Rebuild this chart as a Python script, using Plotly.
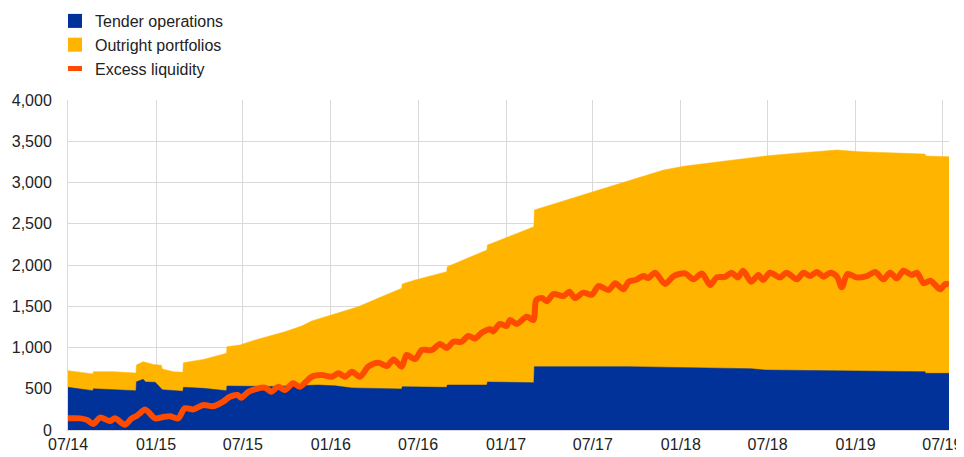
import plotly.graph_objects as go

# ---------------- data (EUR billions) ----------------
total_dates = ["2014-07-01", "2014-08-22", "2014-08-23", "2014-10-04", "2014-11-20", "2014-11-21",
               "2014-12-05", "2014-12-26", "2015-01-12", "2015-01-14", "2015-02-06", "2015-02-26",
               "2015-02-27", "2015-04-10", "2015-05-28", "2015-05-29", "2015-06-25", "2015-07-27",
               "2015-09-27", "2015-11-01", "2015-11-22", "2016-01-10", "2016-02-27", "2016-04-16",
               "2016-05-28", "2016-05-29", "2016-06-25", "2016-08-30", "2016-08-31", "2016-11-22",
               "2016-11-23", "2017-02-28", "2017-03-01", "2017-06-25", "2017-09-14", "2017-11-26",
               "2018-01-10", "2018-03-20", "2018-06-26", "2018-08-24", "2018-11-23", "2019-01-10",
               "2019-03-28", "2019-05-26", "2019-05-27", "2019-07-15"]
total_values = [719, 680, 707, 707, 690, 788,
                828, 795, 785, 739, 707, 700,
                816, 856, 929, 1010, 1030, 1091,
                1191, 1260, 1321, 1406, 1494, 1616,
                1717, 1770, 1818, 1919, 1979, 2182,
                2242, 2464, 2667, 2876, 3022, 3151,
                3200, 3252, 3321, 3353, 3394, 3373,
                3353, 3345, 3321, 3313]

tender_dates = ["2014-07-01", "2014-08-22", "2014-08-23", "2014-10-04", "2014-11-20", "2014-11-21",
                "2014-12-05", "2014-12-10", "2014-12-30", "2015-01-14", "2015-02-26", "2015-02-27",
                "2015-04-10", "2015-05-28", "2015-05-29", "2015-09-01", "2015-12-06", "2016-01-10",
                "2016-02-14", "2016-05-28", "2016-05-29", "2016-08-30", "2016-08-31", "2016-11-22",
                "2016-11-23", "2017-02-28", "2017-03-01", "2017-09-14", "2018-01-10", "2018-05-28",
                "2018-06-26", "2019-05-26", "2019-05-27", "2019-07-15"]
tender_values = [517, 477, 500, 488, 477, 585,
                 614, 582, 580, 488, 470, 517,
                 505, 477, 533, 528, 545, 535,
                 510, 497, 525, 517, 545, 545,
                 582, 574, 768, 768, 755, 743,
                 727, 707, 687, 687]

excess_dates = ["2014-07-01", "2014-07-26", "2014-08-10", "2014-08-23", "2014-09-06", "2014-09-27",
                "2014-10-07", "2014-10-28", "2014-11-11", "2014-11-21", "2014-11-28", "2014-12-09",
                "2014-12-30", "2015-01-16", "2015-01-30", "2015-02-16", "2015-03-02", "2015-03-20",
                "2015-04-10", "2015-04-30", "2015-05-21", "2015-06-04", "2015-06-20", "2015-06-28",
                "2015-07-13", "2015-08-16", "2015-08-30", "2015-09-13", "2015-09-27", "2015-10-14",
                "2015-10-28", "2015-11-22", "2015-12-13", "2016-01-03", "2016-01-17", "2016-01-31",
                "2016-02-14", "2016-03-02", "2016-03-19", "2016-04-09", "2016-04-27", "2016-05-11",
                "2016-05-28", "2016-06-07", "2016-06-25", "2016-07-09", "2016-07-30", "2016-08-16",
                "2016-08-30", "2016-09-13", "2016-09-30", "2016-10-14", "2016-10-28", "2016-11-11",
                "2016-11-29", "2016-12-05", "2016-12-19", "2017-01-02", "2017-01-09", "2017-01-23",
                "2017-02-13", "2017-02-27", "2017-03-05", "2017-03-17", "2017-03-27", "2017-04-10",
                "2017-05-01", "2017-05-13", "2017-05-25", "2017-06-11", "2017-06-29", "2017-07-13",
                "2017-08-03", "2017-08-17", "2017-09-03", "2017-09-14", "2017-09-28", "2017-10-15",
                "2017-10-25", "2017-11-08", "2017-11-29", "2017-12-17", "2018-01-10", "2018-01-27",
                "2018-02-14", "2018-03-03", "2018-03-17", "2018-04-03", "2018-04-17", "2018-04-30",
                "2018-05-11", "2018-05-28", "2018-06-12", "2018-06-22", "2018-07-06", "2018-07-27",
                "2018-08-10", "2018-08-31", "2018-09-14", "2018-09-28", "2018-10-12", "2018-10-26",
                "2018-11-09", "2018-11-23", "2018-12-03", "2018-12-15", "2019-01-03", "2019-01-24",
                "2019-02-11", "2019-02-28", "2019-03-14", "2019-03-28", "2019-04-11", "2019-04-28",
                "2019-05-09", "2019-05-23", "2019-06-06", "2019-06-27", "2019-07-07", "2019-07-15"]
excess_values = [141, 141, 120, 73, 150, 109,
                 141, 65, 141, 170, 202, 250,
                 141, 158, 166, 141, 263, 250,
                 303, 287, 343, 404, 424, 390,
                 464, 513, 465, 525, 485, 566,
                 525, 646, 666, 646, 687, 646,
                 707, 646, 768, 816, 776, 856,
                 768, 909, 860, 970, 970, 1042,
                 994, 1070, 1070, 1139, 1110, 1179,
                 1220, 1195, 1285, 1260, 1333, 1285,
                 1373, 1333, 1576, 1600, 1560, 1648,
                 1624, 1676, 1600, 1665, 1640, 1745,
                 1697, 1778, 1705, 1798, 1818, 1866,
                 1842, 1907, 1770, 1866, 1898, 1826,
                 1898, 1758, 1850, 1855, 1907, 1850,
                 1931, 1798, 1878, 1818, 1907, 1850,
                 1907, 1826, 1907, 1866, 1915, 1859,
                 1907, 1859, 1729, 1890, 1850, 1866,
                 1915, 1826, 1907, 1838, 1931, 1878,
                 1907, 1778, 1810, 1705, 1770, 1765]

series_names = ["Tender operations", "Outright portfolios", "Excess liquidity"]

BLUE = "#003299"
YELLOW = "#ffb400"
ORANGE = "#ff4b00"
GRID = "#d9d9d9"

fig = go.Figure()

# total (tender + outright) drawn first in yellow
fig.add_trace(go.Scatter(x=total_dates, y=total_values, mode="lines", fill="tozeroy",
                         fillcolor=YELLOW, line=dict(color=YELLOW, width=0.5),
                         showlegend=False, hoverinfo="skip"))
# tender operations in blue on top
fig.add_trace(go.Scatter(x=tender_dates, y=tender_values, mode="lines", fill="tozeroy",
                         fillcolor=BLUE, line=dict(color=BLUE, width=0.5),
                         showlegend=False, hoverinfo="skip"))
# excess liquidity line
fig.add_trace(go.Scatter(x=excess_dates, y=excess_values, mode="lines",
                         line=dict(color=ORANGE, width=6, shape="spline", smoothing=0.8),
                         showlegend=False))

# legend entries
fig.add_trace(go.Scatter(x=[None], y=[None], mode="markers", name=series_names[0],
                         marker=dict(symbol="square", size=14, color=BLUE)))
fig.add_trace(go.Scatter(x=[None], y=[None], mode="markers", name=series_names[1],
                         marker=dict(symbol="square", size=14, color=YELLOW)))
fig.add_trace(go.Scatter(x=[None], y=[None], mode="markers", name=series_names[2],
                         marker=dict(symbol="line-ew", size=10,
                                     line=dict(color=ORANGE, width=5))))

# page body has an 8px margin, so the figure is 8px smaller and margins are 8px less
fig.update_layout(
    width=956, height=449,
    margin=dict(l=60, r=15, t=92, b=27, autoexpand=False),
    plot_bgcolor="white", paper_bgcolor="white",
    font=dict(family="Liberation Sans, Arial, sans-serif", size=16, color="#222222"),
    showlegend=True,
    legend=dict(x=-13 / 881, y=(430 - 4) / 330,
                xanchor="left", yanchor="top", bgcolor="rgba(0,0,0,0)",
                font=dict(size=16), tracegroupgap=0),
)
fig.update_xaxes(type="date", range=["2014-07-01", "2019-07-15"], tick0="2014-07-01",
                 dtick="M6", tickformat="%m/%y", showgrid=True, gridcolor=GRID,
                 showline=True, linecolor=GRID, ticks="", zeroline=False)
fig.update_yaxes(range=[0, 4000], dtick=500, tickformat=",", showgrid=True, gridcolor=GRID,
                 showline=True, linecolor=GRID, ticks="", zeroline=False,
                 ticklabelstandoff=12)

fig.write_html("out.html")
